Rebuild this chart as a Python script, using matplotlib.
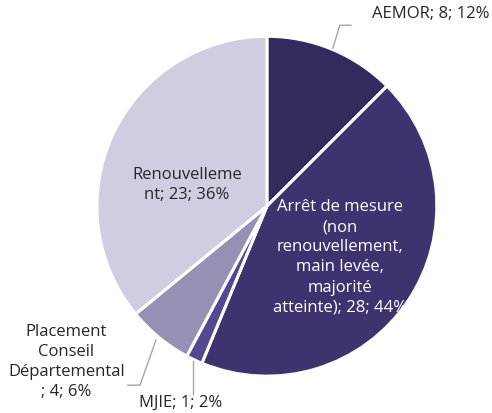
import matplotlib.pyplot as plt

categories = ["AEMOR", "Arrêt de mesure (non renouvellement, main levée, majorité atteinte)",
              "MJIE", "Placement Conseil Départemental", "Renouvellement"]
values = [8, 28, 1, 4, 23]
percents = [12, 44, 2, 6, 36]
label_texts = [
    "AEMOR; 8; 12%",
    "Arrêt de mesure\n(non\nrenouvellement,\nmain levée,\nmajorité\natteinte); 28; 44%",
    "MJIE; 1; 2%",
    "Placement\nConseil\nDépartemental\n; 4; 6%",
    "Renouvelleme\nnt; 23; 36%",
]
colors = ["#342a5d", "#3e336f", "#54488f", "#9790b5", "#cfcde0"]

plt.rcParams['font.family'] = ['Open Sans', 'DejaVu Sans']

fig = plt.figure(figsize=(4.92, 4.14), dpi=100)
ax = fig.add_axes([0.197, 0.089, 0.691, 0.821])
ax.pie(values, colors=colors, startangle=90, counterclock=False,
       wedgeprops=dict(edgecolor="white", linewidth=2.2))
ax.set_xlim(-1, 1)
ax.set_ylim(-1, 1)
ax.set_aspect("equal")
ax.axis("off")

# label positions in pie coordinates (radius 1)
text_pos = [(0.965, 1.135), (0.43, -0.295), (-0.51, -1.153), (-1.18, -0.91), (-0.47, 0.13)]
text_colors = ["#262626", "white", "#262626", "#262626", "#262626"]
for txt, (x, y), c in zip(label_texts, text_pos, text_colors):
    ax.text(x, y, txt, ha="center", va="center", color=c, fontsize=12,
            linespacing=1.35, clip_on=False)

leaders = [
    [(0.388, 0.93), (0.429, 1.065), (0.495, 1.065)],
    [(-0.435, -0.91), (-0.435, -1.106)],
    [(-0.653, -0.788), (-0.747, -1.053), (-0.818, -1.053)],
]
for pts in leaders:
    xs, ys = zip(*pts)
    ax.plot(xs, ys, color="#a6a6a6", lw=1, clip_on=False)

fig.savefig("out.png", dpi=100)
